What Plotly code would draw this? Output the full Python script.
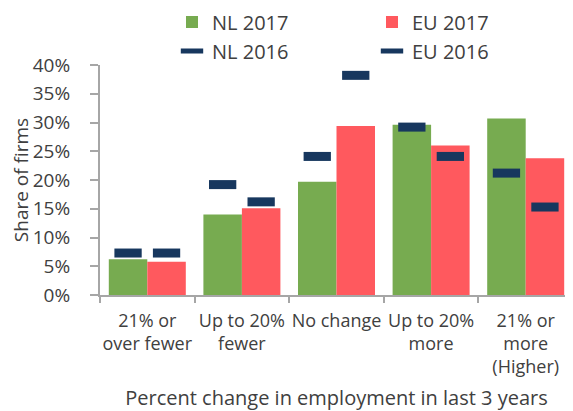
import plotly.graph_objects as go

categories = ["21% or<br>over fewer", "Up to 20%<br>fewer", "No change",
              "Up to 20%<br>more", "21% or<br>more<br>(Higher)"]
nl_2017 = [0.062, 0.140, 0.197, 0.296, 0.307]
eu_2017 = [0.058, 0.151, 0.294, 0.260, 0.238]
nl_2016 = [0.073, 0.192, 0.241, 0.292, 0.212]
eu_2016 = [0.073, 0.162, 0.382, 0.241, 0.153]

GREEN = "#77AB50"
RED = "#FF595E"
NAVY = "#17375E"
AXIS = "#A6A6A6"
FONT = "Open Sans"

fig = go.Figure()
fig.add_trace(go.Bar(x=categories, y=nl_2017, name="NL 2017", marker_color=GREEN,
                     offsetgroup="nl", marker_line_width=0))
fig.add_trace(go.Bar(x=categories, y=eu_2017, name="EU 2017", marker_color=RED,
                     offsetgroup="eu", marker_line_width=0))
fig.add_trace(go.Scatter(x=categories, y=nl_2016, name="NL 2016", mode="markers",
                         offsetgroup="nl",
                         marker=dict(symbol="line-ew-open", size=19.5, color=NAVY,
                                     line=dict(width=9, color=NAVY))))
fig.add_trace(go.Scatter(x=categories, y=eu_2016, name="EU 2016", mode="markers",
                         offsetgroup="eu",
                         marker=dict(symbol="line-ew-open", size=19.5, color=NAVY,
                                     line=dict(width=9, color=NAVY))))

fig.update_layout(
    width=565, height=403,
    margin=dict(l=92, r=0, t=57, b=116, autoexpand=False),
    paper_bgcolor="white", plot_bgcolor="white",
    font=dict(family=FONT, size=18, color="#404040"),
    barmode="group", bargap=0.186, bargroupgap=0,
    scattermode="group", scattergap=0.186,
    legend=dict(orientation="h", xref="paper", yref="paper",
                x=(164 - 92) / 473, y=1.272, xanchor="left", yanchor="top",
                entrywidth=155, font=dict(size=20, color="#404040"),
                traceorder="normal"),
    showlegend=True,
)
fig.update_xaxes(type="category", tickson="boundaries", ticks="outside", ticklen=6,
                 tickwidth=2, tickcolor=AXIS, showline=True, linecolor=AXIS, linewidth=2,
                 showgrid=False, tickfont=dict(size=18), tickangle=0, automargin=False,
                 ticklabelstandoff=8,
                 title=dict(text="Percent change in employment in last 3 years",
                            font=dict(size=20), standoff=16))
fig.update_yaxes(range=[0, 0.4], dtick=0.05, tickformat=".0%", ticks="outside",
                 ticklen=8, tickwidth=2, tickcolor=AXIS, showline=True, linecolor=AXIS,
                 linewidth=2, showgrid=False, zeroline=False, tickfont=dict(size=19),
                 ticklabelstandoff=16, automargin=False,
                 title=dict(text="Share of firms", font=dict(size=19), standoff=0))

fig.write_html("out.html")
